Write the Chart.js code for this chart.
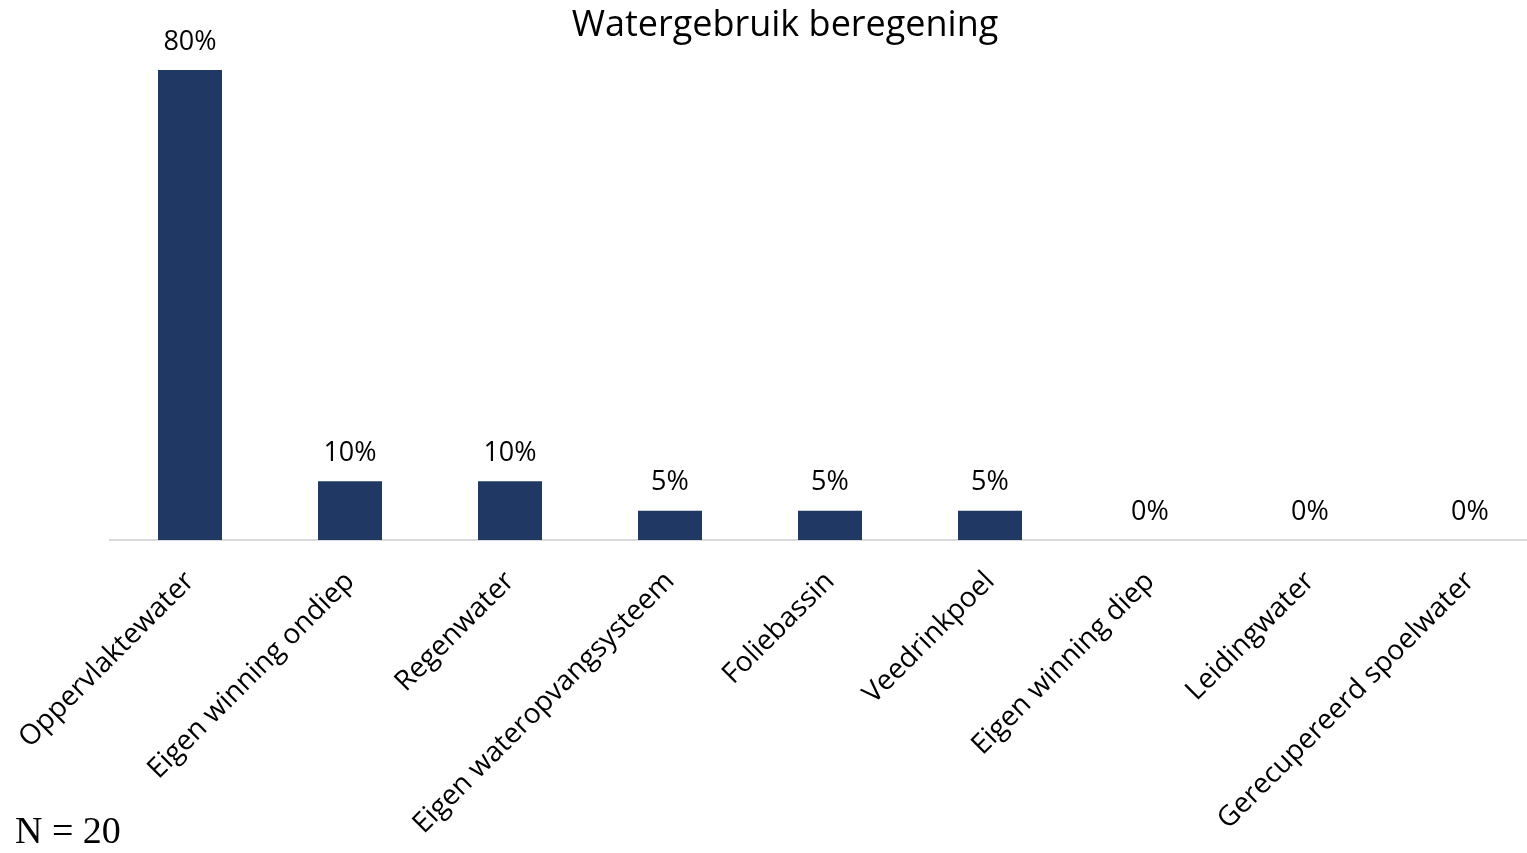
<!DOCTYPE html>
<html>
<head>
<meta charset="utf-8">
<script src="https://cdn.jsdelivr.net/npm/chart.js@4"></script>
<style>
  html, body { margin: 0; padding: 0; background: #fff; overflow: hidden; width: 1527px; height: 853px; }
  #wrap { position: absolute; left: 0; top: 0; width: 1570px; height: 853px; }
  #note { position: absolute; left: 15px; top: 808px; font-family: "Liberation Serif", "DejaVu Serif", serif; font-size: 38px; color: #000; line-height: 44px; }
</style>
</head>
<body>
<div id="wrap"><canvas id="c" width="1570" height="853"></canvas></div>
<div id="note">N = 20</div>
<script>
const categories = ["Oppervlaktewater", "Eigen winning ondiep", "Regenwater", "Eigen wateropvangsysteem", "Foliebassin", "Veedrinkpoel", "Eigen winning diep", "Leidingwater", "Gerecupereerd spoelwater"];
const percentages = [80, 10, 10, 5, 5, 5, 0, 0, 0];
const chartTitle = "Watergebruik beregening";

const FONT = "'Open Sans', 'Noto Sans', sans-serif";

const valueLabels = {
  id: 'valueLabels',
  afterDatasetsDraw(chart) {
    const ctx = chart.ctx;
    const meta = chart.getDatasetMeta(0);
    ctx.save();
    ctx.font = "27px " + FONT;
    ctx.fillStyle = "#000";
    ctx.textAlign = "center";
    ctx.textBaseline = "middle";
    meta.data.forEach((bar, i) => {
      ctx.fillText(percentages[i] + "%", bar.x, bar.y - 28);
    });
    ctx.restore();
  }
};

new Chart(document.getElementById('c'), {
  type: 'bar',
  data: {
    labels: categories,
    datasets: [{
      data: percentages,
      backgroundColor: '#203864',
      barPercentage: 1.0,
      categoryPercentage: 0.4
    }]
  },
  options: {
    responsive: false,
    animation: false,
    layout: { padding: { left: 20, right: 20, top: 0, bottom: 0 } },
    plugins: {
      legend: { display: false },
      tooltip: { enabled: false },
      title: {
        display: true,
        text: chartTitle,
        color: '#000',
        font: { family: FONT, size: 36, weight: 'normal', lineHeight: 1.2 },
        padding: { top: 4.4, bottom: 22.4 }
      }
    },
    scales: {
      x: {
        grid: { display: false, drawTicks: false },
        border: { display: true, color: '#d9d9d9', width: 2 },
        ticks: {
          color: '#000',
          font: { family: FONT, size: 28 },
          minRotation: 45,
          maxRotation: 45,
          autoSkip: false,
          padding: 25
        },
        afterFit(s) { s.height = 313; s.paddingLeft = 0; s.paddingRight = 0; }
      },
      y: {
        min: 0,
        max: 80,
        grid: { display: false },
        border: { display: false },
        ticks: { display: false },
        afterFit(s) { s.width = 90; }
      }
    }
  },
  plugins: [valueLabels]
});
</script>
</body>
</html>
